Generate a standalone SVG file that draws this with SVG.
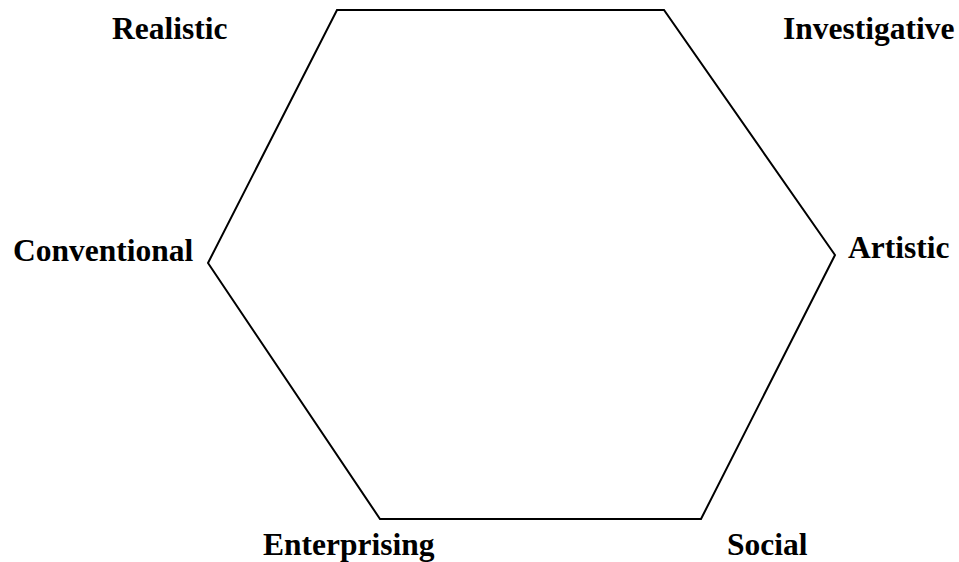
<svg xmlns="http://www.w3.org/2000/svg" width="959" height="562" viewBox="0 0 959 562">
<style>
.lbl{font-family:"Liberation Serif","Times New Roman",serif;font-weight:bold;font-size:31.5px;fill:#000}
.hex{fill:none;stroke:#000;stroke-width:2;stroke-linejoin:miter}
</style>
<rect width="959" height="562" fill="#fff"/>
<g id="connectors">
<polygon id="hexagon" class="hex" points="337,10 664,10 835,255 701,519 380,519 208,263"/>
</g>
<g id="realistic"><text class="lbl" x="112" y="39">Realistic</text></g>
<g id="investigative"><text class="lbl" x="783" y="39">Investigative</text></g>
<g id="conventional"><text class="lbl" x="13" y="261">Conventional</text></g>
<g id="artistic"><text class="lbl" x="848" y="258">Artistic</text></g>
<g id="enterprising"><text class="lbl" x="263" y="555">Enterprising</text></g>
<g id="social"><text class="lbl" x="727" y="555">Social</text></g>
</svg>
